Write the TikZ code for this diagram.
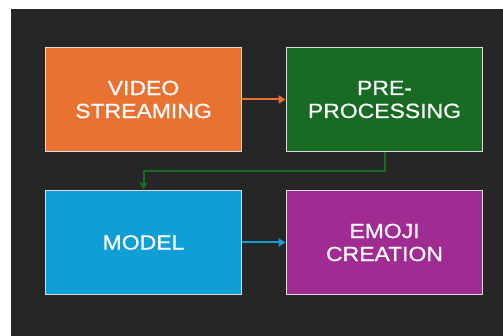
\documentclass[tikz,border=0pt]{standalone}
\usepackage{fontspec}
\setmainfont{Liberation Sans}[FakeStretch=1.12, FakeBold=0.6]
\usetikzlibrary{arrows.meta}
\definecolor{panel}{HTML}{262626}
\definecolor{ofOrange}{HTML}{E97132}
\definecolor{ofGreen}{HTML}{196B24}
\definecolor{ofBlue}{HTML}{0F9ED5}
\definecolor{ofMagenta}{HTML}{A02B93}
\definecolor{rim}{HTML}{DCDCDC}
\tikzset{
  stagebox/.style={rectangle, draw=rim, line width=1.8pt, inner sep=0pt,
    minimum width=196pt, minimum height=104pt, text=white, align=center,
    font=\fontsize{20.5}{23}\selectfont},
  flow/.style={line width=2pt, -{Triangle[length=7pt,width=8pt]}},
}
\begin{document}
\begin{tikzpicture}[x=1pt, y=-1pt]
  % canvas and dark panel
  \useasboundingbox (0,0) rectangle (503,336);
  \fill[white] (0,0) rectangle (503,336);
  \fill[panel] (11,9) rectangle (503,336);

  % pipeline stages
  \node[stagebox, fill=ofOrange]  (video) at (143.5,99.5)  {VIDEO\\STREAMING};
  \node[stagebox, fill=ofGreen]   (pre)   at (384.5,99.5)  {PRE-\\PROCESSING};
  \node[stagebox, fill=ofBlue]    (model) at (143.5,242.5) {MODEL};
  \node[stagebox, fill=ofMagenta] (emoji) at (384.5,242.5) {EMOJI\\CREATION};

  % connectors
  \draw[flow, ofOrange] (video.east) -- (pre.west);
  \draw[flow, ofGreen] (pre.south) -- ++(0,19) -| (model.north);
  \draw[flow, ofBlue] (model.east) -- (emoji.west);
\end{tikzpicture}
\end{document}
